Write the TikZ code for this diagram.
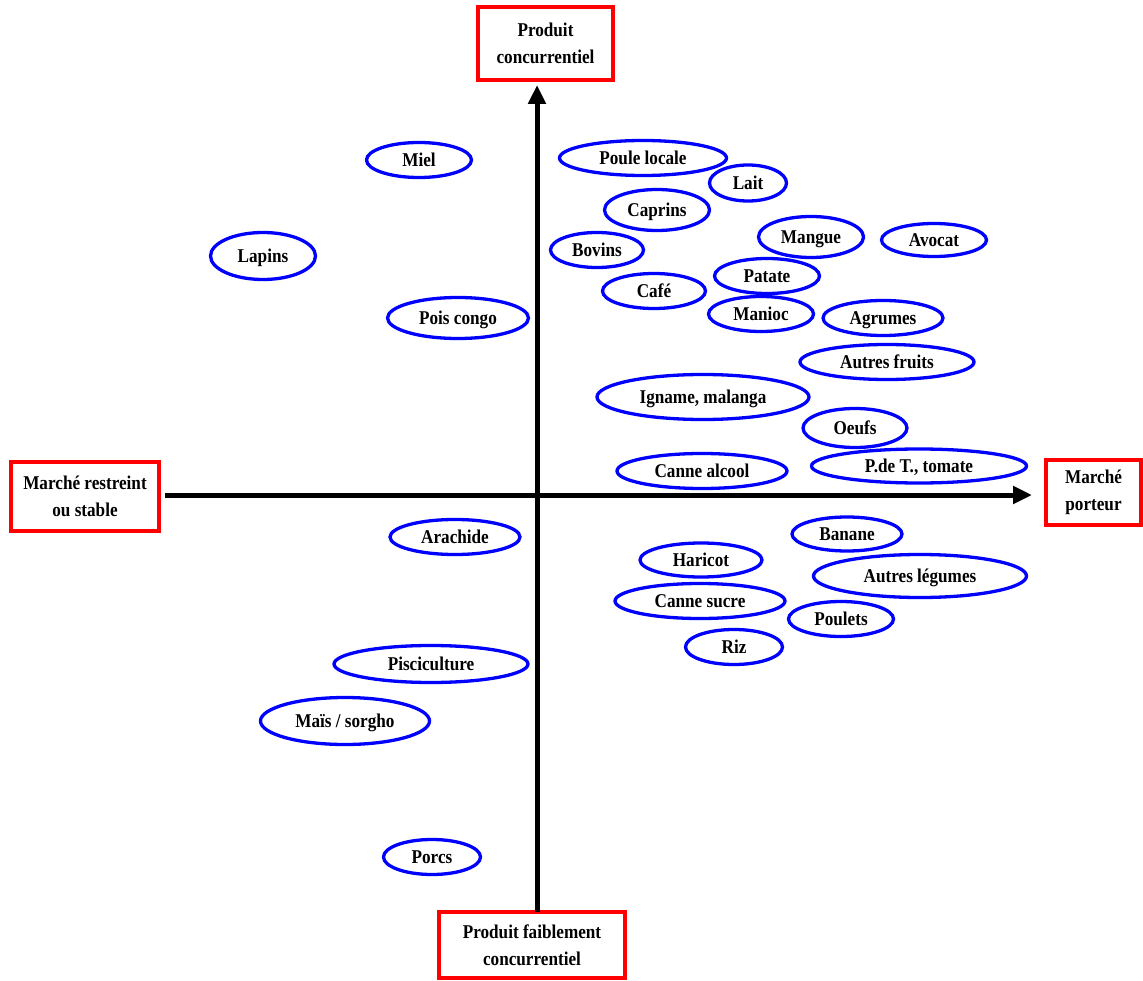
\documentclass[tikz,border=0pt]{standalone}
\usepackage{fontspec}
\setmainfont{Liberation Serif}[FakeStretch=0.88]
\usetikzlibrary{shapes.geometric,arrows.meta}
\tikzset{
  prod/.style={ellipse, draw=blue, line width=3.3pt, inner sep=0pt,
    font=\fontsize{19.5}{22}\selectfont\bfseries, text height=13pt, text depth=0pt},
  pole/.style={rectangle, draw=red, line width=4pt, inner sep=0pt, align=center,
    font=\fontsize{19.5}{27}\selectfont\bfseries},
  axis/.style={line width=5pt, -{Triangle[length=19pt,width=17pt]}}
}
\newcommand{\pe}[5]{\node[prod, minimum width=#3pt-3pt, minimum height=#4pt-3pt] (#1) at (#2) {#5};}
\begin{document}
\begin{tikzpicture}[x=1pt,y=-1pt]
\useasboundingbox (0,0) rectangle (1143,981);
% poles
\node[pole, minimum width=135pt, minimum height=73pt] (top) at (545.5,43.5) {Produit\\concurrentiel};
\node[pole, minimum width=148pt, minimum height=69pt] (left) at (85,496.5) {Marché restreint\\ou stable};
\node[pole, minimum width=95pt, minimum height=65pt] (right) at (1093.5,492.5) {Marché\\porteur};
\node[pole, minimum width=186pt, minimum height=66pt] (bot) at (532,945) {Produit faiblement\\concurrentiel};
\coordinate (O) at (537,495);
% axes
\draw[axis, shorten <=-2pt, shorten >=3pt] (bot.north -| O) -- (top.south -| O);
\draw[axis, shorten <=4pt, shorten >=12pt] (left.east |- O) -- (right.west |- O);
% products
\pe{miel}{419,160}{108}{38}{Miel}
\pe{poule}{643,158}{170}{38}{Poule locale}
\pe{lait}{748,183}{80}{39}{Lait}
\pe{caprins}{657,210}{108}{44}{Caprins}
\pe{bovins}{597,250}{96}{38}{Bovins}
\pe{mangue}{811,237}{108}{44}{Mangue}
\pe{avocat}{934,240}{108}{36}{Avocat}
\pe{lapins}{263,256}{108}{50}{Lapins}
\pe{patate}{767,276}{108}{38}{Patate}
\pe{cafe}{654,291}{106}{38}{Café}
\pe{manioc}{761,314}{108}{38}{Manioc}
\pe{agrumes}{883,318}{123}{38}{Agrumes}
\pe{pois}{458,318}{144}{44}{Pois congo}
\pe{fruits}{887,362}{177}{38}{Autres fruits}
\pe{igname}{703,397}{215}{48}{Igname, malanga}
\pe{oeufs}{855,428}{107}{42}{Oeufs}
\pe{alcool}{702,471}{173}{38}{Canne alcool}
\pe{pdt}{919,466}{218}{37}{P.de T., tomate}
\pe{arachide}{455,537}{133}{38}{Arachide}
\pe{banane}{847,534}{113}{37}{Banane}
\pe{haricot}{701,560}{125}{37}{Haricot}
\pe{legumes}{920,576}{216}{46}{Autres légumes}
\pe{sucre}{700,601}{173}{38}{Canne sucre}
\pe{poulets}{841,619}{108}{38}{Poulets}
\pe{riz}{734,647}{100}{38}{Riz}
\pe{pisci}{431,664}{197}{40}{Pisciculture}
\pe{mais}{345,721}{172}{50}{Maïs / sorgho}
\pe{porcs}{432,857}{100}{38}{Porcs}
\end{tikzpicture}
\end{document}
